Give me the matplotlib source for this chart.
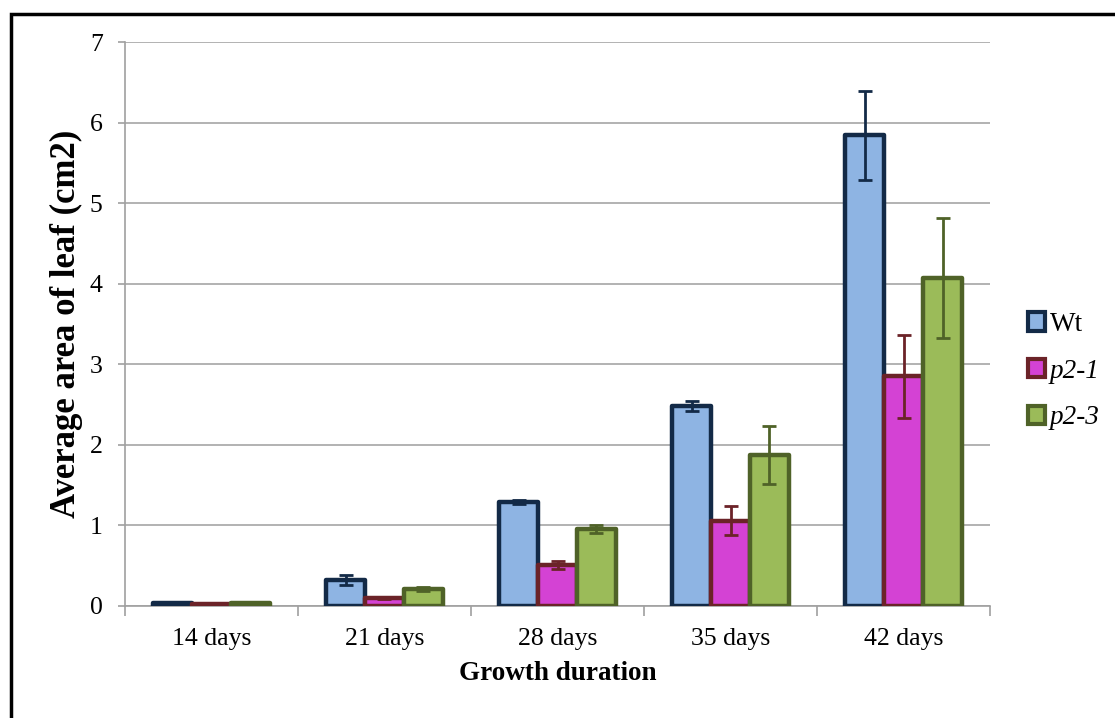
import numpy as np
import matplotlib.pyplot as plt
from matplotlib.patches import Patch, Rectangle

plt.rcParams["font.family"] = ["Liberation Serif", "DejaVu Serif"]

categories = ["14 days", "21 days", "28 days", "35 days", "42 days"]
series_names = ["Wt", "p2-1", "p2-3"]
wt_mean = [0.04, 0.32, 1.29, 2.48, 5.84]
wt_err = [0.01, 0.065, 0.02, 0.065, 0.555]
p21_mean = [0.03, 0.10, 0.51, 1.06, 2.85]
p21_err = [0.005, 0.01, 0.045, 0.175, 0.515]
p23_mean = [0.04, 0.21, 0.96, 1.87, 4.07]
p23_err = [0.005, 0.03, 0.05, 0.36, 0.745]

fills = ["#8EB4E3", "#D442D4", "#9BBB59"]
edges = ["#132A47", "#6B2328", "#4F6228"]

means = [wt_mean, p21_mean, p23_mean]
errs = [wt_err, p21_err, p23_err]

fig = plt.figure(figsize=(11.15, 7.18), dpi=100)
ax = fig.add_axes([0.112, 0.156, 0.776, 0.7855])

x = np.arange(len(categories))
width = 0.225
offsets = [-width, 0, width]

for i in range(3):
    ax.bar(x + offsets[i], means[i], width, color=fills[i], edgecolor=edges[i],
           linewidth=3.2, zorder=3, joinstyle="round")
    ax.errorbar(x + offsets[i], means[i], yerr=errs[i], fmt="none",
                ecolor=edges[i], elinewidth=2, capsize=5, capthick=2, zorder=4)

ax.set_xlim(-0.5, len(categories) - 0.5)
ax.set_ylim(0, 7)
ax.set_yticks(range(0, 8))
ax.set_xticks(x)
ax.set_xticklabels(categories)
ax.set_xticks(np.arange(-0.5, len(categories)), minor=True)
ax.tick_params(axis="x", which="major", length=0, pad=16, labelsize=18.5)
ax.tick_params(axis="x", which="minor", length=7, color="#A0A0A0", width=1.2)
ax.tick_params(axis="y", length=5, color="#A0A0A0", width=1.2, labelsize=18.5, pad=11)

ax.yaxis.grid(True, color="#A6A6A6", linewidth=1.2, zorder=0)
ax.set_axisbelow(True)
for s in ["top", "right"]:
    ax.spines[s].set_visible(False)
for s in ["left", "bottom"]:
    ax.spines[s].set_color("#A0A0A0")
    ax.spines[s].set_linewidth(1.2)

ax.set_xlabel("Growth duration", fontsize=19.5, fontweight="bold", labelpad=8)
ax.set_ylabel("Average area of leaf (cm2)", fontsize=25, fontweight="bold", labelpad=5)

handles = [Patch(facecolor=fills[i], edgecolor=edges[i], linewidth=3) for i in range(3)]
leg = fig.legend(handles, series_names, loc="center left", bbox_to_anchor=(0.9, 0.483),
                 frameon=False, fontsize=19.5, handlelength=0.65, handleheight=0.65,
                 handletextpad=0.15, labelspacing=0.8)
for t in leg.get_texts()[1:]:
    t.set_fontstyle("italic")

# outer frame of the chart area
fig.patches.append(Rectangle((11 / 1115, -0.1), 1.2, (718 - 14) / 718 + 0.1,
                             transform=fig.transFigure, fill=False,
                             edgecolor="black", linewidth=2.5))

fig.savefig("out.png", dpi=100)
